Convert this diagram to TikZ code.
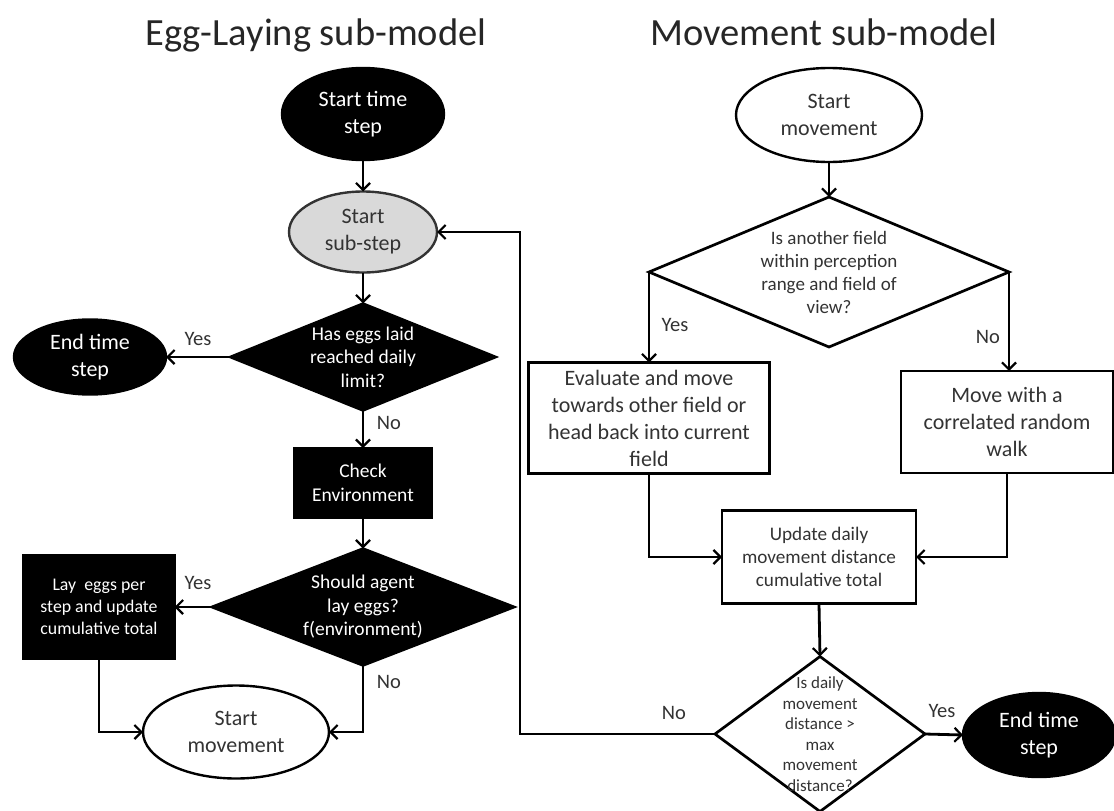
\documentclass[tikz,border=0pt]{standalone}
\usepackage{fontspec}
\setmainfont{Carlito}
\usetikzlibrary{shapes.geometric,arrows.meta,calc}
\begin{document}
\begin{tikzpicture}[x=1pt,y=-1pt,
  every node/.style={inner sep=0pt, outer sep=0pt, align=center},
  lw/.style={line width=2.4pt},
  fbig/.style={font=\fontsize{22}{27}\selectfont},
  fmid/.style={font=\fontsize{19.5}{23.5}\selectfont},
  darkell/.style={ellipse, fill=black, draw=black, lw, text=white, fbig},
  greyell/.style={ellipse, fill=black!15, draw=black!80, lw, text=black!80, fbig},
  whiteell/.style={ellipse, fill=white, draw=black, lw, text=black!80, fbig},
  darkbox/.style={rectangle, fill=black, draw=black, lw, text=white},
  whitebox/.style={rectangle, fill=white, draw=black, line width=2.7pt, text=black!80},
  darkdia/.style={diamond, fill=black, draw=black, lw},
  whitedia/.style={diamond, fill=white, draw=black, line width=2.7pt},
  dtextw/.style={text=white, fmid},
  dtextk/.style={text=black!80},
  lbl/.style={font=\fontsize{20.5}{24}\selectfont, text=black!80},
  ttl/.style={font=\fontsize{38.5}{42}\selectfont, text=black!85, anchor=base},
  arr/.style={line width=2.8pt, -{Straight Barb[length=7pt,width=14pt,line width=2.2pt]}},
  ln/.style={lw}
]
\useasboundingbox (0,0) rectangle (1114,811);

% titles
\node[ttl] (t1) at (316,45) {Egg-Laying sub-model};
\node[ttl] (t2) at (824,45) {Movement sub-model};

% left column
\node[darkell, minimum width=162pt, minimum height=92pt] (sts) at (363,114) {Start time\\step};
\node[greyell, minimum width=148pt, minimum height=81pt] (sub) at (363,232) {Start\\sub-step};
\node[darkdia, minimum width=266pt, minimum height=107pt,
      label={[dtextw]center:{Has eggs laid\\reached daily\\limit?}}] (d1) at (363,357) {};
\node[darkell, minimum width=152pt, minimum height=75pt] (end1) at (90,357) {End time\\step};
\node[darkbox, minimum width=137pt, minimum height=70pt, fmid] (chk) at (363,483) {Check\\Environment};
\node[darkdia, minimum width=303pt, minimum height=117pt,
      label={[dtextw]center:{Should agent\\lay eggs?\\f(environment)}}] (d2) at (363,607) {};
\node[darkbox, minimum width=151pt, minimum height=103pt,
      font=\fontsize{17.8}{21.7}\selectfont] (lay) at (99,607) {Lay\ \ eggs per\\step and update\\cumulative total};
\node[whiteell, minimum width=186pt, minimum height=93pt] (sm1) at (236,732) {Start\\movement};

% right column
\node[whiteell, minimum width=186pt, minimum height=94pt] (sm2) at (829,115) {Start\\movement};
\node[whitedia, minimum width=360pt, minimum height=150pt,
      label={[dtextk, font=\fontsize{19}{23}\selectfont]center:{Is another field\\within perception\\range and field of\\view?}}] (d3) at (829,272) {};
\node[whitebox, minimum width=241pt, minimum height=111pt, fbig] (eval) at (649,418)
  {Evaluate and move\\towards other field or\\head back into current\\field};
\node[whitebox, minimum width=212pt, minimum height=102pt, fbig] (mbox) at (1007,422)
  {Move with a\\correlated random\\walk};
\node[whitebox, minimum width=194pt, minimum height=93pt, font=\fontsize{19.2}{23}\selectfont] (upd) at (819,557)
  {Update daily\\movement distance\\cumulative total};
\node[whitedia, minimum width=210pt, minimum height=155pt,
      label={[dtextk, font=\fontsize{17}{20.5}\selectfont]center:{Is daily\\movement\\distance >\\max\\movement\\distance?}}] (d4) at (820,734) {};
\node[darkell, minimum width=152pt, minimum height=84pt] (end2) at (1039,735) {End time\\step};

% connectors left
\draw[arr] (sts) -- (sub);
\draw[arr] (sub) -- (d1);
\draw[arr] (d1.west) -- (end1.east);
\draw[arr] (d1.south) -- (chk.north);
\draw[arr] (chk.south) -- (d2.north);
\draw[arr] (d2.west) -- (lay.east);
\draw[arr] (d2.south) |- (sm1.east);
\draw[arr] (lay.south) |- (sm1.west);

% connectors right
\draw[arr] (sm2.south) -- (d3.north);
\draw[arr] (d3.west) -- (d3.west |- eval.north);
\draw[arr] (d3.east) -- (d3.east |- mbox.north);
\draw[arr] (eval.south) |- (upd.west);
\draw[arr] (mbox.south) |- (upd.east);
\draw[arr] (upd.south) -- (d4.north);
\draw[arr] (d4.east) -- (end2.west);
\coordinate (fb) at (520,0);
\draw[arr] (d4.west) -- (d4.west -| fb) -- (fb |- sub.east) -- (sub.east);

% labels
\node[lbl] (y1) at (198,339) {Yes};
\node[lbl] (n1) at (389,423) {No};
\node[lbl] (y2) at (198,583) {Yes};
\node[lbl] (n2) at (389,682) {No};
\node[lbl] (y3) at (675,325) {Yes};
\node[lbl] (n3) at (988,337) {No};
\node[lbl] (n4) at (674,713) {No};
\node[lbl] (y4) at (942,711) {Yes};
\end{tikzpicture}
\end{document}
